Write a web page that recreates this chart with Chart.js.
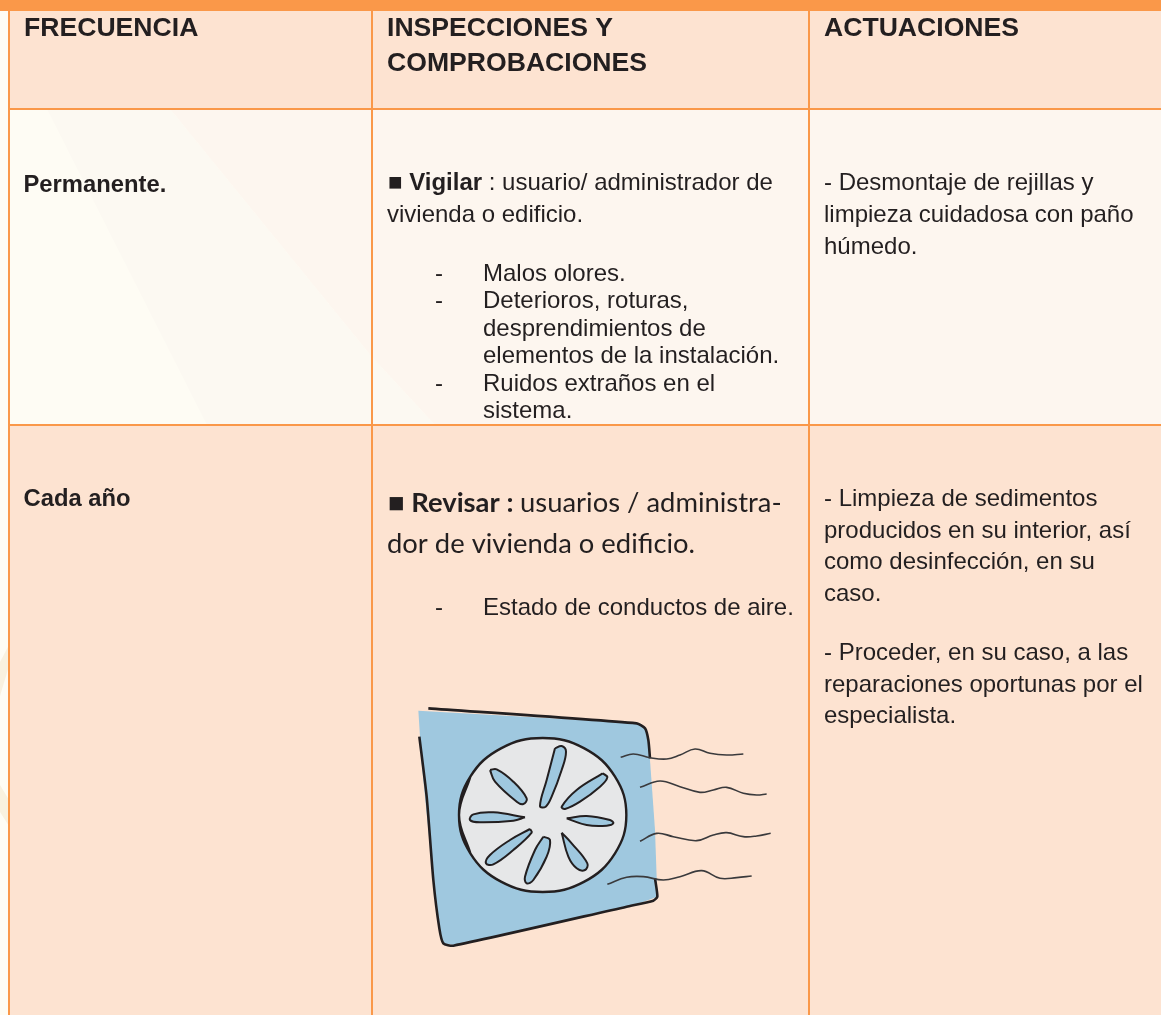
<!DOCTYPE html>
<html>
<head>
<meta charset="utf-8">
<script src="https://cdn.jsdelivr.net/npm/chart.js"></script>
<style>
  html, body { margin: 0; background: #fefcf4; }
  canvas { display: block; }
</style>
</head>
<body>
<canvas id="chart" width="1161" height="1015"></canvas>
<script>
  // table text
  const headFrecuencia = ['FRECUENCIA'];
  const headInspecciones = ['INSPECCIONES Y', 'COMPROBACIONES'];
  const headActuaciones = ['ACTUACIONES'];
  const frecuencias = ['Permanente.', 'Cada año'];
  const vigilarList = ['Malos olores.', 'Deterioros, roturas,', 'desprendimientos de', 'elementos de la instalación.', 'Ruidos extraños en el', 'sistema.'];
  const vigilarDashes = [true, true, false, false, true, false];
  const actuaciones1 = ['- Desmontaje de rejillas y', 'limpieza cuidadosa con paño', 'húmedo.'];
  const actuaciones2 = ['- Limpieza de sedimentos', 'producidos en su interior, así', 'como desinfección, en su', 'caso.'];
  const actuaciones3 = ['- Proceder, en su caso, a las', 'reparaciones oportunas por el', 'especialista.'];

  // table edges
  const columnEdges = [9, 372, 809, 1161];
  const rowEdges = [11, 109, 425, 1015];

  // fan drawing, in units of 1/3 px from its top left corner
  const fanBody = [[115,92],[780,130],[800,150],[810,240],[825,450],[832,650],[750,680],[220,795],[190,790],[175,740],[150,500],[125,250]];
  const fanTop = [[145,85],[770,130],[795,145],[805,180],[810,235]];
  const fanLeft = [[118,170],[140,350],[160,600],[178,745],[190,790],[220,797],[740,680],[820,662],[832,650],[825,595]];
  const fanDisc = [[271,520],[237,405],[271,290],[363,205],[488,174],[613,205],[705,290],[739,405],[705,520],[613,605],[488,636],[363,605],[271,520],[237,405],[271,290]];
  const fanBlades = [
    [[525,205],[545,198],[558,215],[545,270],[515,350],[497,380],[480,378],[500,300],[525,205]],
    [[668,280],[682,292],[660,320],[600,365],[555,387],[545,380],[590,330],[668,280]],
    [[560,415],[620,408],[690,420],[700,430],[680,437],[620,435],[560,415]],
    [[545,458],[575,490],[622,550],[615,570],[590,565],[565,530],[545,458]],
    [[490,470],[510,480],[500,530],[460,600],[440,610],[435,590],[465,510],[490,470]],
    [[450,447],[455,458],[400,510],[340,553],[318,550],[330,525],[390,480],[450,447]],
    [[435,412],[400,422],[300,427],[270,420],[280,403],[340,397],[435,412]],
    [[330,270],[350,268],[400,305],[440,355],[430,372],[410,365],[345,305],[330,270]]
  ];
  const fanWaves = [
    [[722,232],[760,222],[810,233],[860,237],[900,225],[945,207],[990,220],[1040,225],[1090,222]],
    [[780,322],[840,303],[900,320],[960,337],[1000,330],[1040,322],[1090,340],[1130,345],[1160,342]],
    [[780,484],[830,460],[880,470],[950,482],[1000,465],[1040,458],[1090,470],[1130,468],[1172,460]],
    [[682,613],[740,592],[790,590],[850,600],[900,590],[965,572],[1020,595],[1070,593],[1115,588]]
  ];

  const ORANGE = '#fa9849';
  const PEACH = '#fde3d1';
  const INK = '#231f20';
  const BLUE = '#9fc8df';
  const SANS = '"Liberation Sans", Arial, sans-serif';

  const datasets = [];
  function shape(points, fillColor, lineColor, width, tension) {
    datasets.push({
      data: points.map(p => ({ x: p[0], y: p[1] })),
      showLine: true,
      fill: fillColor ? 'shape' : false,
      backgroundColor: fillColor || 'transparent',
      borderColor: lineColor || 'transparent',
      borderWidth: width || 0,
      tension: tension || 0,
      pointRadius: 0,
      clip: false,
      order: -datasets.length
    });
  }
  function rect(x0, y0, x1, y1, color) {
    shape([[x0, y0], [x1, y0], [x1, y1], [x0, y1], [x0, y0]], color);
  }
  const art = pts => pts.map(p => [380 + p[0] / 3, 680 + p[1] / 3]);

  // faint watermark behind the table
  shape([[0, 662], [9, 645], [9, 666], [0, 696], [0, 662]], '#f9f1df');
  shape([[0, 785], [9, 800], [9, 826], [0, 812], [0, 785]], '#f9f1df');

  // cells
  const right = columnEdges[3];
  rect(columnEdges[0], rowEdges[0], right, rowEdges[1], PEACH);
  shape([[47, 109], [170, 109], [372, 357], [435, 425], [207, 425], [47, 109]], '#fcf9f2');
  shape([[170, 109], [right, 109], [right, 425], [435, 425], [372, 357], [170, 109]], '#fdf6ef');
  rect(columnEdges[0], rowEdges[2], right, rowEdges[3], PEACH);

  // fan
  shape(art(fanBody), BLUE);
  shape(art(fanTop), null, INK, 2.6, 0.2);
  shape(art(fanLeft), null, INK, 2.6, 0.2);
  shape(art(fanDisc), '#e6e7e8', INK, 2.4, 0.4);
  fanBlades.forEach(b => shape(art(b), BLUE, INK, 2, 0.4));
  fanWaves.forEach(w => shape(art(w), null, '#3a3a3c', 1.6, 0.4));

  // table rules
  rect(0, 0, right, rowEdges[0], ORANGE);
  columnEdges.slice(0, 3).forEach(x => shape([[x, 0], [x, 1015]], null, ORANGE, 2));
  rowEdges.slice(1, 3).forEach(y => shape([[columnEdges[0], y], [right, y]], null, ORANGE, 2));

  function lines(ctx, list, x, baselines) {
    list.forEach((t, i) => ctx.fillText(t, x, baselines[i]));
  }
  function runs(ctx, parts, x, y) {
    parts.forEach(p => {
      ctx.font = p[1];
      ctx.fillText(p[0], x, y);
      x += ctx.measureText(p[0]).width;
    });
  }

  const tableText = {
    id: 'tableText',
    afterDatasetsDraw(chart) {
      const ctx = chart.ctx;
      ctx.save();
      ctx.fillStyle = INK;
      ctx.textBaseline = 'alphabetic';

      ctx.font = 'bold 26.6px ' + SANS;
      lines(ctx, headFrecuencia, 24, [36]);
      lines(ctx, headInspecciones, 387, [36, 71]);
      lines(ctx, headActuaciones, 824, [36]);

      ctx.font = 'bold 23.8px ' + SANS;
      lines(ctx, frecuencias, 23.5, [192, 506]);

      const bold = 'bold 24px ' + SANS, body = '24px ' + SANS;
      runs(ctx, [['■ ', bold], ['Vigilar', bold], [' : usuario/ administrador de', body]], 388, 190);
      ctx.font = body;
      ctx.fillText('vivienda o edificio.', 387, 222);
      const listY = [281, 308, 336, 363, 391, 418];
      lines(ctx, vigilarList, 483, listY);
      vigilarDashes.forEach((d, i) => { if (d) ctx.fillText('-', 435, listY[i]); });

      lines(ctx, actuaciones1, 824, [190, 222, 254]);
      lines(ctx, actuaciones2, 824, [506, 538, 569, 601]);
      lines(ctx, actuaciones3, 824, [660, 692, 723]);

      ctx.fillText('-', 435, 615);
      ctx.fillText('Estado de conductos de aire.', 483, 615);

      const lato = '27.4px Lato, sans-serif';
      runs(ctx, [['■ ', 'bold ' + lato], ['Revisar : ', 'bold ' + lato], ['usuarios / administra-', lato]], 388, 512);
      ctx.font = lato;
      ctx.fillText('dor de vivienda o edificio.', 387, 553);
      ctx.restore();
    }
  };

  new Chart(document.getElementById('chart'), {
    type: 'scatter',
    data: { datasets: datasets },
    plugins: [tableText],
    options: {
      responsive: false,
      animation: false,
      layout: { padding: 0 },
      plugins: { legend: { display: false }, tooltip: { enabled: false }, title: { display: false } },
      scales: {
        x: { type: 'linear', display: false, min: 0, max: 1161 },
        y: { type: 'linear', display: false, min: 0, max: 1015, reverse: true }
      }
    }
  });
</script>
</body>
</html>
